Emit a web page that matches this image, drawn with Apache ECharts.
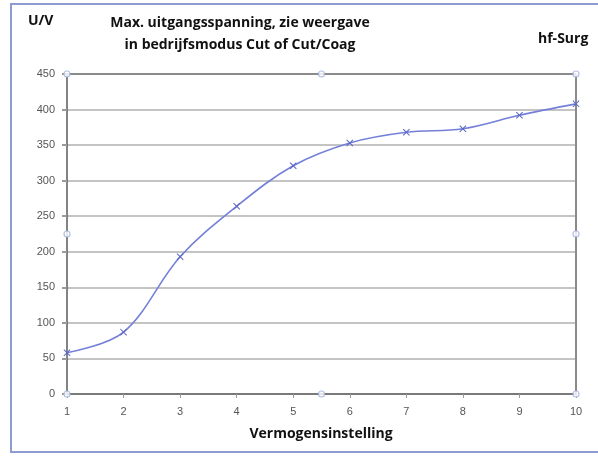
<!DOCTYPE html>
<html>
<head>
<meta charset="utf-8">
<script src="https://cdn.jsdelivr.net/npm/echarts@6/dist/echarts.min.js"></script>
<style>
  html, body { margin: 0; padding: 0; background: #fff; }
  #chart { width: 598px; height: 457px; }
</style>
</head>
<body>
<div id="chart"></div>
<script>
// Vermogensinstelling (power setting) 1..10
const settings = [1, 2, 3, 4, 5, 6, 7, 8, 9, 10];
// max. output voltage U/V
const voltage = [58, 87, 193, 264, 321, 353, 368, 373, 392, 408];
// selection handles seen on the plot frame
const handles = [[1, 450], [5.5, 450], [10, 450], [1, 225], [10, 225], [1, 0], [5.5, 0], [10, 0]];

const chart = echarts.init(document.getElementById('chart'));

const crossPath = 'path://M0,1L1,0L5,4L9,0L10,1L6,5L10,9L9,10L5,6L1,10L0,9L4,5Z';
const fontFam = '"Open Sans", "Noto Sans", sans-serif';

const options = {
  animation: false,
  grid: { left: 67, top: 74, right: 22, bottom: 63 },
  graphic: [
    {
      type: 'rect',
      shape: { x: 11, y: 4, width: 700, height: 448 },
      style: { fill: 'none', stroke: '#8d9bd0', lineWidth: 2 }
    },
    {
      type: 'text', x: 28, y: 14,
      style: { text: 'U/V', font: 'bold 14px ' + fontFam, fill: '#111' }
    },
    {
      type: 'text', x: 538, y: 32,
      style: { text: 'hf-Surg', font: 'bold 14px ' + fontFam, fill: '#111' }
    },
    {
      type: 'text', x: 240, y: 12,
      style: {
        text: 'Max. uitgangsspanning, zie weergave\nin bedrijfsmodus Cut of Cut/Coag',
        font: 'bold 14px ' + fontFam, fill: '#111', align: 'center', lineHeight: 22
      }
    },
    {
      type: 'text', x: 321, y: 427,
      style: { text: 'Vermogensinstelling', font: 'bold 14px ' + fontFam, fill: '#111', align: 'center' }
    }
  ],
  xAxis: {
    type: 'value',
    min: 1, max: 10, interval: 1,
    axisLine: { show: true, onZero: false, lineStyle: { color: '#7a7a7a', width: 2 } },
    axisTick: { show: true, length: 4, inside: false, lineStyle: { color: '#9a9a9a' } },
    axisLabel: { color: '#555', fontSize: 11, fontFamily: 'Arial, sans-serif', margin: 12 },
    splitLine: { show: false }
  },
  yAxis: {
    type: 'value',
    min: 0, max: 450, interval: 50,
    axisLine: { show: true, lineStyle: { color: '#5a5a5a', width: 1.5 } },
    axisTick: { show: true, length: 5, lineStyle: { color: '#9a9a9a', width: 2 } },
    axisLabel: { color: '#555', fontSize: 11, fontFamily: 'Arial, sans-serif', margin: 12 },
    splitLine: { show: true, lineStyle: { color: '#c4c4c4', width: 2 } }
  },
  series: [
    {
      type: 'line',
      data: [[10, 0], [10, 450]],
      symbol: 'none',
      silent: true,
      lineStyle: { color: '#8a8a8a', width: 2 },
      z: 1
    },
    {
      type: 'line',
      data: [[1, 450], [10, 450]],
      symbol: 'none',
      silent: true,
      lineStyle: { color: '#8a8a8a', width: 2 },
      z: 1
    },
    {
      name: 'U/V',
      type: 'line',
      data: settings.map((s, i) => [s, voltage[i]]),
      smooth: 0.35,
      symbol: crossPath,
      symbolSize: 7,
      itemStyle: { color: '#5a64c8' },
      lineStyle: { color: '#7480d8', width: 1.6 },
      z: 3
    },
    {
      type: 'scatter',
      data: handles,
      symbol: 'circle',
      symbolSize: 6,
      itemStyle: { color: '#fff', borderColor: '#9fb0de', borderWidth: 1.2 },
      z: 4
    }
  ]
};

chart.setOption(options);
</script>
</body>
</html>
